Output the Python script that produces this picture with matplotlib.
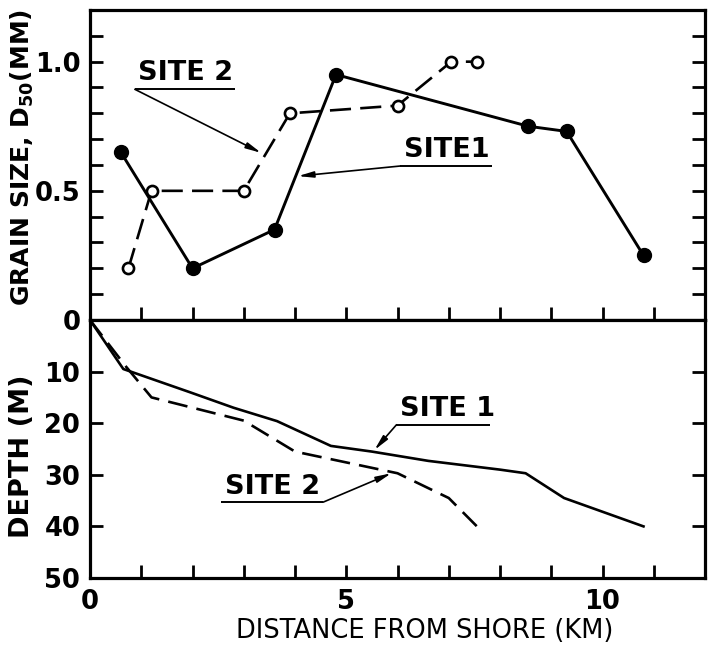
import matplotlib
matplotlib.use("Agg")
import matplotlib.pyplot as plt

# Grain size (D50, mm) versus distance from shore
site1_grain_x = [0.6, 2.0, 3.6, 4.8, 8.55, 9.3, 10.8]
site1_grain_y = [0.65, 0.20, 0.35, 0.95, 0.75, 0.73, 0.25]
site2_grain_x = [0.75, 1.2, 3.0, 3.9, 6.0, 7.05, 7.55]
site2_grain_y = [0.20, 0.50, 0.50, 0.80, 0.83, 1.00, 1.00]

# Depth profiles (m) versus distance from shore
site1_depth_x = [0.0, 0.65, 1.95, 2.8, 3.65, 4.7, 5.5, 6.6, 8.0, 8.5, 9.25, 10.8]
site1_depth_y = [0.0, 9.5, 14.0, 17.0, 19.6, 24.4, 25.5, 27.3, 29.0, 29.7, 34.5, 40.0]
site2_depth_x = [0.0, 0.7, 1.2, 3.0, 4.0, 6.0, 7.0, 7.55]
site2_depth_y = [0.0, 9.0, 15.0, 19.5, 25.5, 29.7, 34.5, 40.0]

x_ticks = list(range(0, 13))
x_ticklabels = {0: "0", 5: "5", 10: "10"}
grain_ticks = [round(0.1 * i, 1) for i in range(0, 12)]
grain_ticklabels = {0.0: "0", 0.5: "0.5", 1.0: "1.0"}
depth_ticks = [0, 10, 20, 30, 40, 50]

FONT = "DejaVu Sans"
plt.rcParams["font.family"] = [FONT]

fig = plt.figure(figsize=(7.11, 6.46), dpi=100)
L, R = 90 / 711, 705 / 711
y_top, y_mid, y_bot = 1 - 10 / 646, 1 - 320 / 646, 1 - 578 / 646
ax1 = fig.add_axes([L, y_mid, R - L, y_top - y_mid])
ax2 = fig.add_axes([L, y_bot, R - L, y_mid - y_bot])

spine_w = 2.3
for ax in (ax1, ax2):
    for s in ax.spines.values():
        s.set_linewidth(spine_w)
    ax.set_xlim(0, 12)
    ax.tick_params(direction="in", length=9.5, width=2.0,
                   right=True, left=True, top=False, bottom=True, pad=7)
    ax.set_xticks(x_ticks)

tick_font = dict(fontsize=18.5, fontweight="bold")

# --- grain size panel ---
ax1.plot(site1_grain_x, site1_grain_y, color="black", lw=2.1, marker="o",
         markersize=10, markerfacecolor="black", markeredgecolor="black")
ax1.plot(site2_grain_x, site2_grain_y, color="black", lw=1.9, dashes=(8, 3.5),
         marker="o", markersize=8, markerfacecolor="white",
         markeredgecolor="black", markeredgewidth=1.9)
ax1.set_ylim(0, 1.2)
ax1.set_yticks(grain_ticks)
ax1.set_yticklabels([grain_ticklabels.get(t, "") for t in grain_ticks], **tick_font)
ax1.set_xticklabels([])

# --- depth panel ---
ax2.plot(site1_depth_x, site1_depth_y, color="black", lw=1.9)
ax2.plot(site2_depth_x, site2_depth_y, color="black", lw=1.9, dashes=(7.5, 3.5))
ax2.set_ylim(50, 0)
ax2.set_yticks(depth_ticks)
ax2.set_yticklabels(["" if t == 0 else str(t) for t in depth_ticks], **tick_font)
ax2.set_xticklabels([x_ticklabels.get(t, "") for t in x_ticks], **tick_font)
ax2.tick_params(axis="x", pad=8)

# --- labelled arrows ---
arrow = dict(arrowstyle="-|>,head_length=0.9,head_width=0.18", color="black",
             lw=1.2, shrinkA=0, shrinkB=0)
label_font = dict(fontsize=19.5, fontweight="bold", family=FONT)


def tag(ax, text, ul_x0, ul_x1, ul_y, start, tip, text_dy):
    ax.plot([ul_x0, ul_x1], [ul_y, ul_y], color="black", lw=1.4,
            solid_capstyle="butt")
    ax.text(ul_x0 + 0.07, ul_y + text_dy, text, ha="left", va="bottom",
            **label_font)
    ax.annotate("", xy=tip, xytext=start, arrowprops=arrow)


tag(ax1, "SITE 2", 0.875, 2.83, 0.893, (0.875, 0.893), (3.34, 0.647), 0.012)
tag(ax1, "SITE1", 6.05, 7.84, 0.596, (6.05, 0.596), (4.06, 0.557), 0.012)
tag(ax2, "SITE 1", 5.98, 7.8, 20.3, (5.98, 20.3), (5.55, 25.2), -0.5)
tag(ax2, "SITE 2", 2.56, 4.55, 35.3, (4.55, 35.3), (5.88, 29.7), -0.5)

# --- axis titles ---
fig.text(22 / 711, 1 - 157 / 646, r"GRAIN SIZE, D$_{\mathbf{50}}$(MM)",
         rotation=90, ha="center", va="center", fontsize=18, fontweight="bold")
fig.text(22 / 711, 1 - 456 / 646, "DEPTH (M)", rotation=90,
         ha="center", va="center", fontsize=19.5, fontweight="bold")
fig.text(425 / 711, 1 - 631 / 646, "DISTANCE FROM SHORE (KM)",
         ha="center", va="center", fontsize=18.5)

fig.savefig("out.png", dpi=100)
